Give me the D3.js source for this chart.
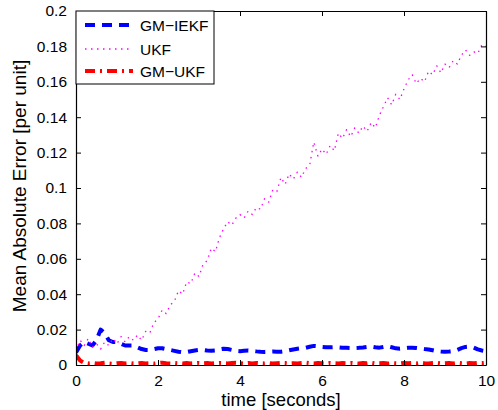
<!DOCTYPE html>
<html>
<head>
<meta charset="utf-8">
<script src="https://cdn.jsdelivr.net/npm/d3@7"></script>
<style>
    body { margin: 0; background: #ffffff; }
    svg { display: block; font-family: "Liberation Sans", Arial, sans-serif; }
</style>
</head>
<body>
<script>

// time axis, one sample every 0.1 s
let times = d3.range(0, 101).map(function(i) { return i / 10; });

// series values
let gmIekf = [
    0.0070, 0.0110, 0.0130, 0.0120, 0.0110, 0.0140, 0.0200, 0.0180, 0.0140, 0.0130,
    0.0130, 0.0120, 0.0110, 0.0110, 0.0110, 0.0100, 0.0090, 0.0085, 0.0085, 0.0090,
    0.0095, 0.0095, 0.0090, 0.0085, 0.0080, 0.0075, 0.0072, 0.0073, 0.0078, 0.0082,
    0.0085, 0.0085, 0.0082, 0.0080, 0.0082, 0.0088, 0.0092, 0.0090, 0.0085, 0.0080,
    0.0078, 0.0080, 0.0082, 0.0080, 0.0077, 0.0075, 0.0074, 0.0075, 0.0076, 0.0075,
    0.0075, 0.0078, 0.0083, 0.0088, 0.0092, 0.0095, 0.0097, 0.0103, 0.0108, 0.0106,
    0.0102, 0.0100, 0.0100, 0.0101, 0.0100, 0.0098, 0.0097, 0.0096, 0.0096, 0.0097,
    0.0099, 0.0102, 0.0104, 0.0100, 0.0098, 0.0102, 0.0106, 0.0100, 0.0094, 0.0092,
    0.0094, 0.0097, 0.0098, 0.0096, 0.0093, 0.0090, 0.0088, 0.0083, 0.0078, 0.0076,
    0.0075, 0.0076, 0.0078, 0.0085, 0.0095, 0.0102, 0.0104, 0.0098, 0.0088, 0.0082,
    0.0078
];

let ukf = [
    0.008, 0.014, 0.011, 0.015, 0.010, 0.012, 0.009, 0.013, 0.011, 0.015,
    0.012, 0.016, 0.013, 0.016, 0.014, 0.017, 0.014, 0.019, 0.018, 0.024,
    0.026, 0.031, 0.029, 0.034, 0.036, 0.042, 0.040, 0.047, 0.046, 0.052,
    0.050, 0.057, 0.059, 0.066, 0.064, 0.072, 0.077, 0.081, 0.079, 0.083,
    0.085, 0.083, 0.087, 0.085, 0.089, 0.088, 0.094, 0.092, 0.099, 0.098,
    0.106, 0.102, 0.108, 0.105, 0.109, 0.106, 0.111, 0.113, 0.126, 0.118,
    0.122, 0.119, 0.124, 0.121, 0.131, 0.128, 0.133, 0.129, 0.134, 0.131,
    0.135, 0.132, 0.137, 0.134, 0.141, 0.146, 0.151, 0.147, 0.153, 0.150,
    0.156, 0.161, 0.164, 0.159, 0.162, 0.160, 0.166, 0.164, 0.169, 0.165,
    0.170, 0.168, 0.172, 0.170, 0.175, 0.178, 0.175, 0.177, 0.176, 0.181,
    0.180
];

let gmUkf = [
    0.0055, 0.0025, 0.0012, 0.0009, 0.0011, 0.0008, 0.0010, 0.0013, 0.0009, 0.0007,
    0.0010, 0.0012, 0.0009, 0.0011, 0.0008, 0.0010, 0.0012, 0.0009, 0.0010, 0.0008,
    0.0011, 0.0013, 0.0010, 0.0009, 0.0012, 0.0010, 0.0008, 0.0011, 0.0009, 0.0010,
    0.0012, 0.0009, 0.0011, 0.0008, 0.0010, 0.0012, 0.0010, 0.0009, 0.0011, 0.0013,
    0.0010, 0.0008, 0.0011, 0.0009, 0.0012, 0.0010, 0.0009, 0.0011, 0.0008, 0.0010,
    0.0012, 0.0011, 0.0009, 0.0010, 0.0008, 0.0011, 0.0013, 0.0010, 0.0009, 0.0011,
    0.0010, 0.0008, 0.0012, 0.0010, 0.0009, 0.0011, 0.0010, 0.0012, 0.0009, 0.0008,
    0.0011, 0.0010, 0.0013, 0.0009, 0.0010, 0.0012, 0.0008, 0.0011, 0.0010, 0.0009,
    0.0012, 0.0010, 0.0011, 0.0009, 0.0013, 0.0010, 0.0008, 0.0011, 0.0012, 0.0009,
    0.0010, 0.0011, 0.0009, 0.0012, 0.0010, 0.0008, 0.0011, 0.0010, 0.0012, 0.0011,
    0.0013
];

let seriesNames = ["GM\u2212IEKF", "UKF", "GM\u2212UKF"];
let xTicks = [0, 2, 4, 6, 8, 10];
let yTicks = [0, 0.02, 0.04, 0.06, 0.08, 0.1, 0.12, 0.14, 0.16, 0.18, 0.2];

// Styles for each line, in the same order as seriesNames
let lineStyles = [
    { color: "#0000ff", width: 4, dash: "10,7" },
    { color: "#ff00ff", width: 1.3, dash: "1.5,4.5" },
    { color: "#ff0000", width: 4, dash: "10,5,2,5" }
];

const width = 498, height = 410;
const plot = { left: 76, right: 486, top: 11, bottom: 365 };

let svg = d3.select("body").append("svg")
    .attr("width", width)
    .attr("height", height);

let x = d3.scaleLinear().domain([0, 10]).range([plot.left, plot.right]);
let y = d3.scaleLinear().domain([0, 0.2]).range([plot.bottom, plot.top]);

svg.append("defs").append("clipPath")
    .attr("id", "plotClip")
    .append("rect")
    .attr("x", plot.left)
    .attr("y", plot.top)
    .attr("width", plot.right - plot.left)
    .attr("height", plot.bottom - plot.top);

// Lines
let line = d3.line()
    .x(function(d) { return x(d[0]); })
    .y(function(d) { return y(d[1]); });

let allSeries = [gmIekf, ukf, gmUkf];

let lines = svg.append("g").attr("clip-path", "url(#plotClip)");

allSeries.forEach(function(values, i) {
    let pts = times.map(function(t, j) { return [t, values[j]]; });
    lines.append("path")
        .datum(pts)
        .attr("d", line)
        .attr("fill", "none")
        .attr("stroke", lineStyles[i].color)
        .attr("stroke-width", lineStyles[i].width)
        .attr("stroke-dasharray", lineStyles[i].dash)
        .attr("stroke-linejoin", "round");
});

// Axes - MATLAB style box with inward ticks on all four sides
let fmt = function(d) { return d === 0 ? "0" : String(+d.toFixed(2)); };

svg.append("g")
    .attr("transform", "translate(0," + plot.bottom + ")")
    .call(d3.axisBottom(x).tickValues(xTicks).tickSizeInner(-5).tickSizeOuter(0).tickPadding(10).tickFormat(fmt))
    .call(styleAxis);

svg.append("g")
    .attr("transform", "translate(0," + plot.top + ")")
    .call(d3.axisTop(x).tickValues(xTicks).tickSizeInner(-5).tickSizeOuter(0).tickFormat(""))
    .call(styleAxis);

svg.append("g")
    .attr("transform", "translate(" + plot.left + ",0)")
    .call(d3.axisLeft(y).tickValues(yTicks).tickSizeInner(-5).tickSizeOuter(0).tickPadding(9).tickFormat(fmt))
    .call(styleAxis);

svg.append("g")
    .attr("transform", "translate(" + plot.right + ",0)")
    .call(d3.axisRight(y).tickValues(yTicks).tickSizeInner(-5).tickSizeOuter(0).tickFormat(""))
    .call(styleAxis);

function styleAxis(g) {
    g.select(".domain").attr("stroke", "#000").attr("stroke-width", 1.2);
    g.selectAll(".tick line").attr("stroke", "#000").attr("stroke-width", 1);
    g.selectAll(".tick text")
        .attr("fill", "#000")
        .style("font-size", "15.5px")
        .style("font-family", "'Liberation Sans', Arial, sans-serif");
}

// Axis labels
svg.append("text")
    .attr("x", (plot.left + plot.right) / 2)
    .attr("y", 406)
    .attr("text-anchor", "middle")
    .style("font-size", "18.5px")
    .text("time [seconds]");

svg.append("text")
    .attr("transform", "translate(26," + ((plot.top + plot.bottom) / 2 - 2) + ")rotate(-90)")
    .attr("text-anchor", "middle")
    .style("font-size", "19px")
    .text("Mean Absolute Error [per unit]");

// Legend
let legend = svg.append("g");

legend.append("rect")
    .attr("x", plot.left)
    .attr("y", plot.top)
    .attr("width", 138)
    .attr("height", 73)
    .attr("fill", "#fff")
    .attr("stroke", "#000")
    .attr("stroke-width", 1);

let legendRows = [25, 49, 71];

seriesNames.forEach(function(name, i) {
    legend.append("line")
        .attr("x1", 85)
        .attr("x2", 133)
        .attr("y1", legendRows[i])
        .attr("y2", legendRows[i])
        .attr("stroke", lineStyles[i].color)
        .attr("stroke-width", lineStyles[i].width)
        .attr("stroke-dasharray", lineStyles[i].dash);

    legend.append("text")
        .attr("x", 140)
        .attr("y", legendRows[i])
        .attr("dy", "0.36em")
        .style("font-size", "15.5px")
        .text(name);
});

</script>
</body>
</html>
